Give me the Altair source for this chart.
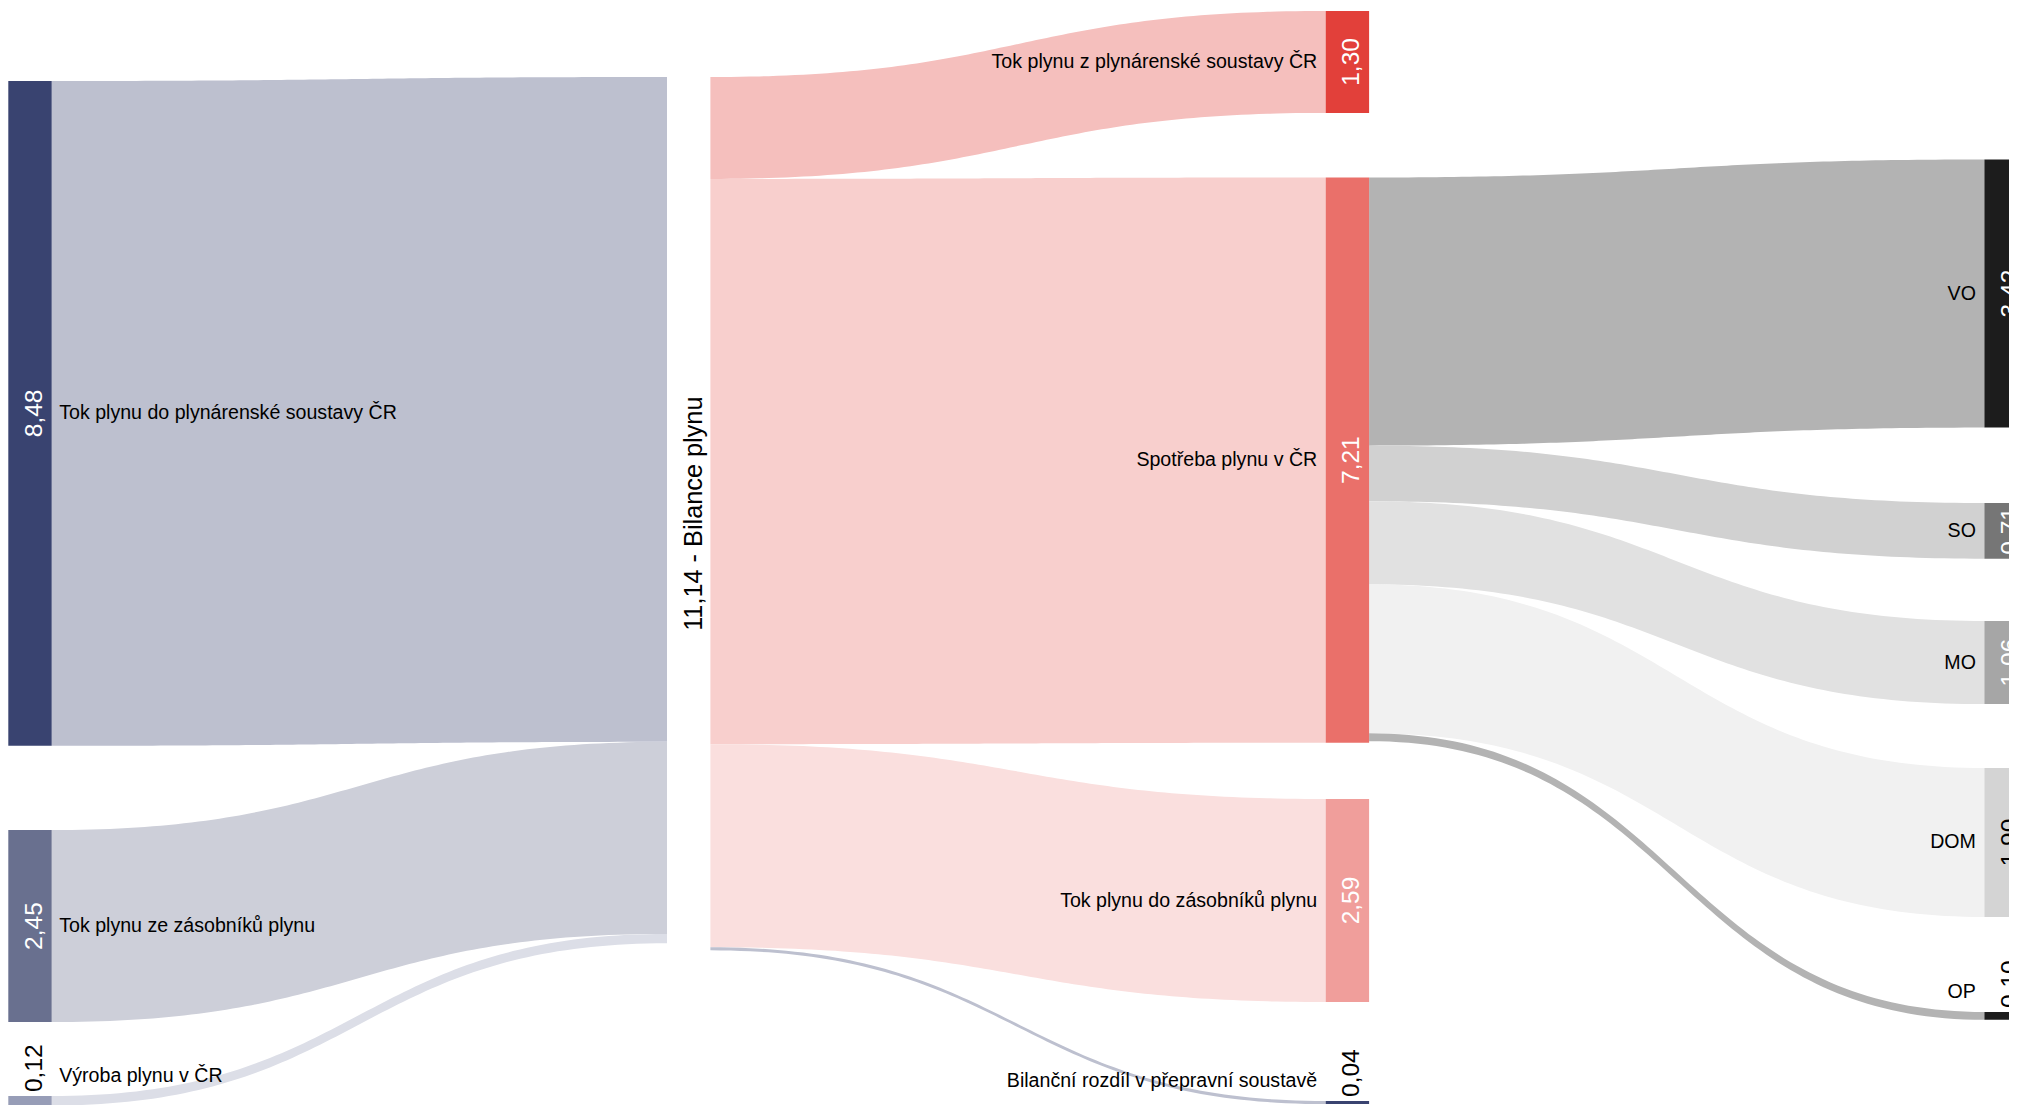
import altair as alt
import pandas as pd
import numpy as np

# ---------------- data ----------------
node_names = [
    "Tok plynu do plynárenské soustavy ČR",
    "Tok plynu ze zásobníků plynu",
    "Výroba plynu v ČR",
    "Bilance plynu",
    "Tok plynu z plynárenské soustavy ČR",
    "Spotřeba plynu v ČR",
    "Tok plynu do zásobníků plynu",
    "Bilanční rozdíl v přepravní soustavě",
    "VO", "SO", "MO", "DOM", "OP",
]
node_column = [0, 0, 0, 1, 2, 2, 2, 2, 3, 3, 3, 3, 3]

link_source = [0, 1, 2, 3, 3, 3, 3, 5, 5, 5, 5, 5]
link_target = [3, 3, 3, 4, 5, 6, 7, 8, 9, 10, 11, 12]
link_value = [8.48, 2.45, 0.12, 1.30, 7.21, 2.59, 0.04, 3.42, 0.71, 1.06, 1.90, 0.10]

# ---------------- styles / layout ----------------
node_colors = ["#394370", "#69708f", "#979db7", "#ffffff",
               "#e2403a", "#ea706a", "#f09e9b", "#394370",
               "#1c1c1c", "#767676", "#a6a6a6", "#d4d4d4", "#1c1c1c"]
# padding (in flow units) above each node within its column
node_pad_before = [0.931, 1.074, 0.943, 0.880, 0.038, 0.824, 0.717, 1.262,
                   1.932, 0.962, 0.795, 0.815, 1.212]
LINK_ALPHA = 0.335
COL_STEP_PX = 658.7
NODE_W_PX = 43.4
PX_PER_UNIT = 78.4
X_OFF_PX = 0.3
W, H = 2001, 1097
FONT = "Liberation Sans"
NAME_SIZE = 19.6
VALUE_SIZE = 24.5
MID_SIZE = 25.3
SMALL_NODE_PX = 50


def blend_white(hexcol, a):
    h = hexcol.lstrip("#")
    rgb = [int(h[i:i + 2], 16) for i in (0, 2, 4)]
    out = [round(255 - a * (255 - c)) for c in rgb]
    return "#%02x%02x%02x" % tuple(out)


def luminance(hexcol):
    h = hexcol.lstrip("#")
    r, g, b = [int(h[i:i + 2], 16) / 255 for i in (0, 2, 4)]
    return 0.2126 * r + 0.7152 * g + 0.0722 * b


def fmt(v):
    return f"{v:.2f}".replace(".", ",")


n = len(node_names)
in_sum = np.zeros(n)
out_sum = np.zeros(n)
for s, t, v in zip(link_source, link_target, link_value):
    out_sum[s] += v
    in_sum[t] += v
node_value = np.maximum(in_sum, out_sum)

node_w = NODE_W_PX / COL_STEP_PX
node_x0 = [float(c) for c in node_column]
node_x1 = [c + node_w for c in node_x0]
node_y0 = [0.0] * n
col_bottom = {}
for i in range(n):
    c = node_column[i]
    start = col_bottom.get(c, 0.0) + node_pad_before[i]
    node_y0[i] = start
    col_bottom[c] = start + node_value[i]
node_y1 = [node_y0[i] + node_value[i] for i in range(n)]

# link bands
out_off = list(node_y0)
in_off = list(node_y0)
rows = []
ts = np.linspace(0, 1, 90)
for k, (s, t, v) in enumerate(zip(link_source, link_target, link_value)):
    sy0 = out_off[s]
    out_off[s] += v
    ty0 = in_off[t]
    in_off[t] += v
    base = node_colors[t] if node_colors[t].lower() != "#ffffff" else node_colors[s]
    col = blend_white(base, LINK_ALPHA)
    xa, xb = node_x1[s], node_x0[t]
    fx = 1.5 * ts - 1.5 * ts ** 2 + ts ** 3
    fy = 3 * ts ** 2 - 2 * ts ** 3
    for j in range(len(ts)):
        x = xa + (xb - xa) * fx[j]
        ytop = sy0 + (ty0 - sy0) * fy[j]
        rows.append({"lid": f"L{k:02d}", "c": col, "x": x,
                     "y0": ytop, "y1": ytop + v})
links_df = pd.DataFrame(rows)

nodes_df = pd.DataFrame({
    "name": node_names, "x0": node_x0, "x1": node_x1,
    "y0": node_y0, "y1": node_y1, "c": node_colors,
})
nodes_df = nodes_df[nodes_df["c"] != "#ffffff"]

name_left, name_right, val_in, val_out, mid = [], [], [], [], []
for i in range(n):
    hpx = node_value[i] * PX_PER_UNIT
    small = hpx < SMALL_NODE_PX
    xc = (node_x0[i] + node_x1[i]) / 2
    yc = (node_y0[i] + node_y1[i]) / 2
    if node_column[i] == 1:
        mid.append({"x": xc, "y": yc, "t": f"{fmt(node_value[i])} - {node_names[i]}"})
        continue
    ny = node_y0[i] - 20 / PX_PER_UNIT if small else yc
    if node_column[i] == 0:
        name_left.append({"x": node_x1[i], "y": ny, "t": node_names[i]})
    else:
        name_right.append({"x": node_x0[i], "y": ny, "t": node_names[i]})
    if small:
        val_out.append({"x": xc, "y": node_y0[i], "t": fmt(node_value[i]), "c": "#000000"})
    else:
        tc = "#ffffff" if luminance(node_colors[i]) < 0.75 else "#000000"
        val_in.append({"x": xc, "y": yc, "t": fmt(node_value[i]), "c": tc})

xs = alt.Scale(domain=[-X_OFF_PX / COL_STEP_PX, (W - X_OFF_PX) / COL_STEP_PX], nice=False, zero=False)
ys = alt.Scale(domain=[0, H / PX_PER_UNIT], reverse=True, nice=False, zero=False)

links = alt.Chart(links_df).mark_area(orient="vertical", interpolate="linear").encode(
    x=alt.X("x:Q", scale=xs, axis=None),
    y=alt.Y("y0:Q", scale=ys, axis=None, stack=None),
    y2="y1:Q",
    color=alt.Color("c:N", scale=None),
    detail="lid:N",
)

nodes = alt.Chart(nodes_df).mark_rect().encode(
    x=alt.X("x0:Q", scale=xs, axis=None),
    x2="x1:Q",
    y=alt.Y("y0:Q", scale=ys, axis=None),
    y2="y1:Q",
    color=alt.Color("c:N", scale=None),
)


def text_layer(data, **mk):
    return alt.Chart(pd.DataFrame(data)).mark_text(font=FONT, baseline="middle", **mk).encode(
        x=alt.X("x:Q", scale=xs, axis=None),
        y=alt.Y("y:Q", scale=ys, axis=None),
        text="t:N",
    )


t_name_left = text_layer(name_left, align="left", dx=7.5, fontSize=NAME_SIZE, color="#000000")
t_name_right = text_layer(name_right, align="right", dx=-8.5, fontSize=NAME_SIZE, color="#000000")
t_mid = text_layer(mid, align="center", angle=270, dy=5, fontSize=MID_SIZE, color="#000000")
t_val_in = text_layer(val_in, align="center", angle=270, dy=5, fontSize=VALUE_SIZE).encode(
    color=alt.Color("c:N", scale=None))
t_val_out = text_layer(val_out, align="left", angle=270, dx=4, dy=5, fontSize=VALUE_SIZE).encode(
    color=alt.Color("c:N", scale=None))

chart = alt.layer(links, nodes, t_name_left, t_name_right, t_mid, t_val_in, t_val_out).properties(
    width=W, height=H, padding=0, autosize=alt.AutoSizeParams(type="none"),
    background="#ffffff",
).configure_view(stroke=None)

chart.save("out.html", embed_options={"renderer": "svg", "actions": False})
